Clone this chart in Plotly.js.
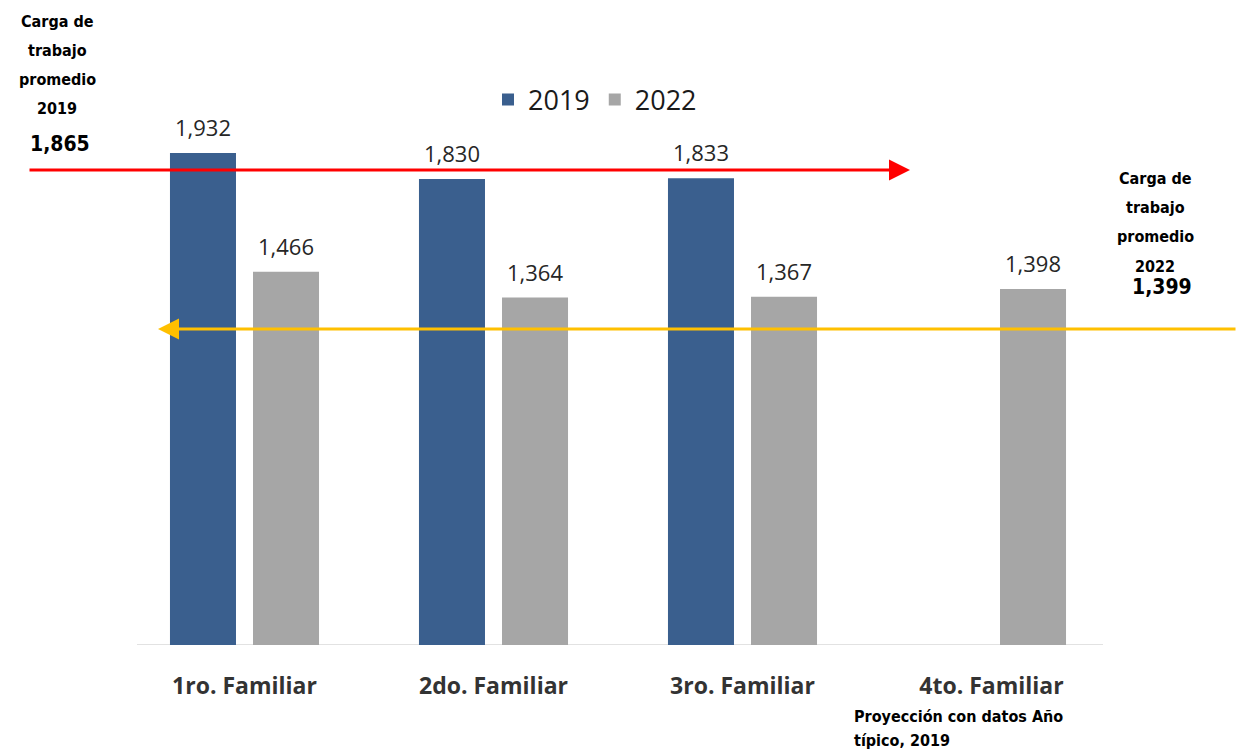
<!DOCTYPE html>
<html>
<head>
<meta charset="utf-8">
<script src="https://cdn.plot.ly/plotly-3.0.1.min.js"></script>
<style>html,body{margin:0;padding:0;background:#fff;}#chart{width:1237px;height:753px;}</style>
</head>
<body>
<div id="chart"></div>
<script>
// ---- data ----
const categories = ["1ro. Familiar", "2do. Familiar", "3ro. Familiar", "4to. Familiar"];
const values2019 = [1932, 1830, 1833, null];
const values2022 = [1466, 1364, 1367, 1398];
const seriesNames = ["2019", "2022"];
const avg2019 = 1865;
const avg2022 = 1399;
const avg2019Lines = ["Carga de", "trabajo", "promedio", "2019"];
const avg2022Lines = ["Carga de", "trabajo", "promedio", "2022"];
const noteLines = ["Proyección con datos Año", "típico, 2019"];

// ---- layout helpers ----
const W = 1237, H = 753;
const M = {l: 120, r: 121, t: 20, b: 108};
const plotW = W - M.l - M.r, plotH = H - M.t - M.b;
const yMax = 2454;
const px = x => (x - M.l) / plotW;
const py = y => (H - M.b - y) / plotH;
const bargap = 0.333;
const slot = plotW / categories.length * (1 - bargap) / 2;

const fmt = v => v.toLocaleString("en-US");
const labelFont = {family: "Open Sans, sans-serif", size: 22, color: "#262626"};
const boldFont = (s) => ({family: "DejaVu Sans Condensed, DejaVu Sans, sans-serif", size: s, color: "#000", weight: "bold"});

const traces = [
  {type: "bar", name: seriesNames[0], x: categories, y: values2019,
   marker: {color: "#3A5F8E"}, hoverinfo: "skip"},
  {type: "bar", name: seriesNames[1], x: categories, y: values2022,
   marker: {color: "#A6A6A6"}, hoverinfo: "skip"}
];

const annotations = [];
[values2019, values2022].forEach((vals, si) => {
  vals.forEach((v, i) => {
    if (v == null) return;
    annotations.push({x: categories[i], y: v, xref: "x", yref: "y", text: fmt(v),
      showarrow: false, yanchor: "middle", yshift: 26, xshift: (si === 0 ? -1 : 1) * slot / 2,
      font: labelFont});
  });
});

// average arrows
annotations.push({x: px(910), y: avg2019, xref: "paper", yref: "y", text: "",
  showarrow: true, ax: -882, ay: 0, axref: "pixel", ayref: "pixel",
  arrowhead: 2, arrowsize: 1.4, arrowwidth: 3, arrowcolor: "#FF0000"});
annotations.push({x: px(158), y: py(329), xref: "paper", yref: "paper", text: "",
  showarrow: true, ax: 1079, ay: 0, axref: "pixel", ayref: "pixel",
  arrowhead: 2, arrowsize: 1.4, arrowwidth: 3, arrowcolor: "#FFC000"});

// side texts (one annotation per line to match line spacing)
function addLines(lines, cx, y0, dy, size, anchor) {
  lines.forEach((t, i) => {
    annotations.push({x: px(cx), y: py(y0 + i * dy), xref: "paper", yref: "paper", text: t,
      showarrow: false, font: boldFont(size), xanchor: anchor, yanchor: "middle"});
  });
}
addLines(avg2019Lines, 57, 21, 29, 16, "center");
addLines([fmt(avg2019)], 60, 144, 0, 21, "center");
addLines(avg2022Lines, 1155, 179, 29, 16, "center");
addLines([fmt(avg2022)], 1162, 287, 0, 21, "center");
addLines(noteLines, 852, 716, 24, 16, "left");

const layout = {
  width: W, height: H,
  margin: M,
  paper_bgcolor: "#fff", plot_bgcolor: "#fff",
  barmode: "group", bargap: bargap, bargroupgap: 0.205,
  showlegend: true,
  legend: {orientation: "h", x: px(595), y: py(100), xanchor: "center", yanchor: "middle",
    font: {family: "Open Sans, sans-serif", size: 27, color: "#1a1a1a"}, itemwidth: 30,
    traceorder: "normal"},
  xaxis: {type: "category", showline: false, showgrid: false, zeroline: false,
    ticks: "outside", ticklen: 20, tickcolor: "rgba(0,0,0,0)",
    tickfont: {family: "Open Sans, sans-serif", size: 23, color: "#333", weight: "bold"}},
  yaxis: {range: [0, yMax], visible: false, showgrid: false, zeroline: false},
  shapes: [{type: "line", xref: "paper", yref: "y", x0: px(137), x1: px(1103), y0: 0, y1: 0,
    line: {color: "#D9D9D9", width: 1.5}, layer: "below"}],
  annotations: annotations
};

Plotly.newPlot("chart", traces, layout, {displayModeBar: false, staticPlot: true});
</script>
</body>
</html>
